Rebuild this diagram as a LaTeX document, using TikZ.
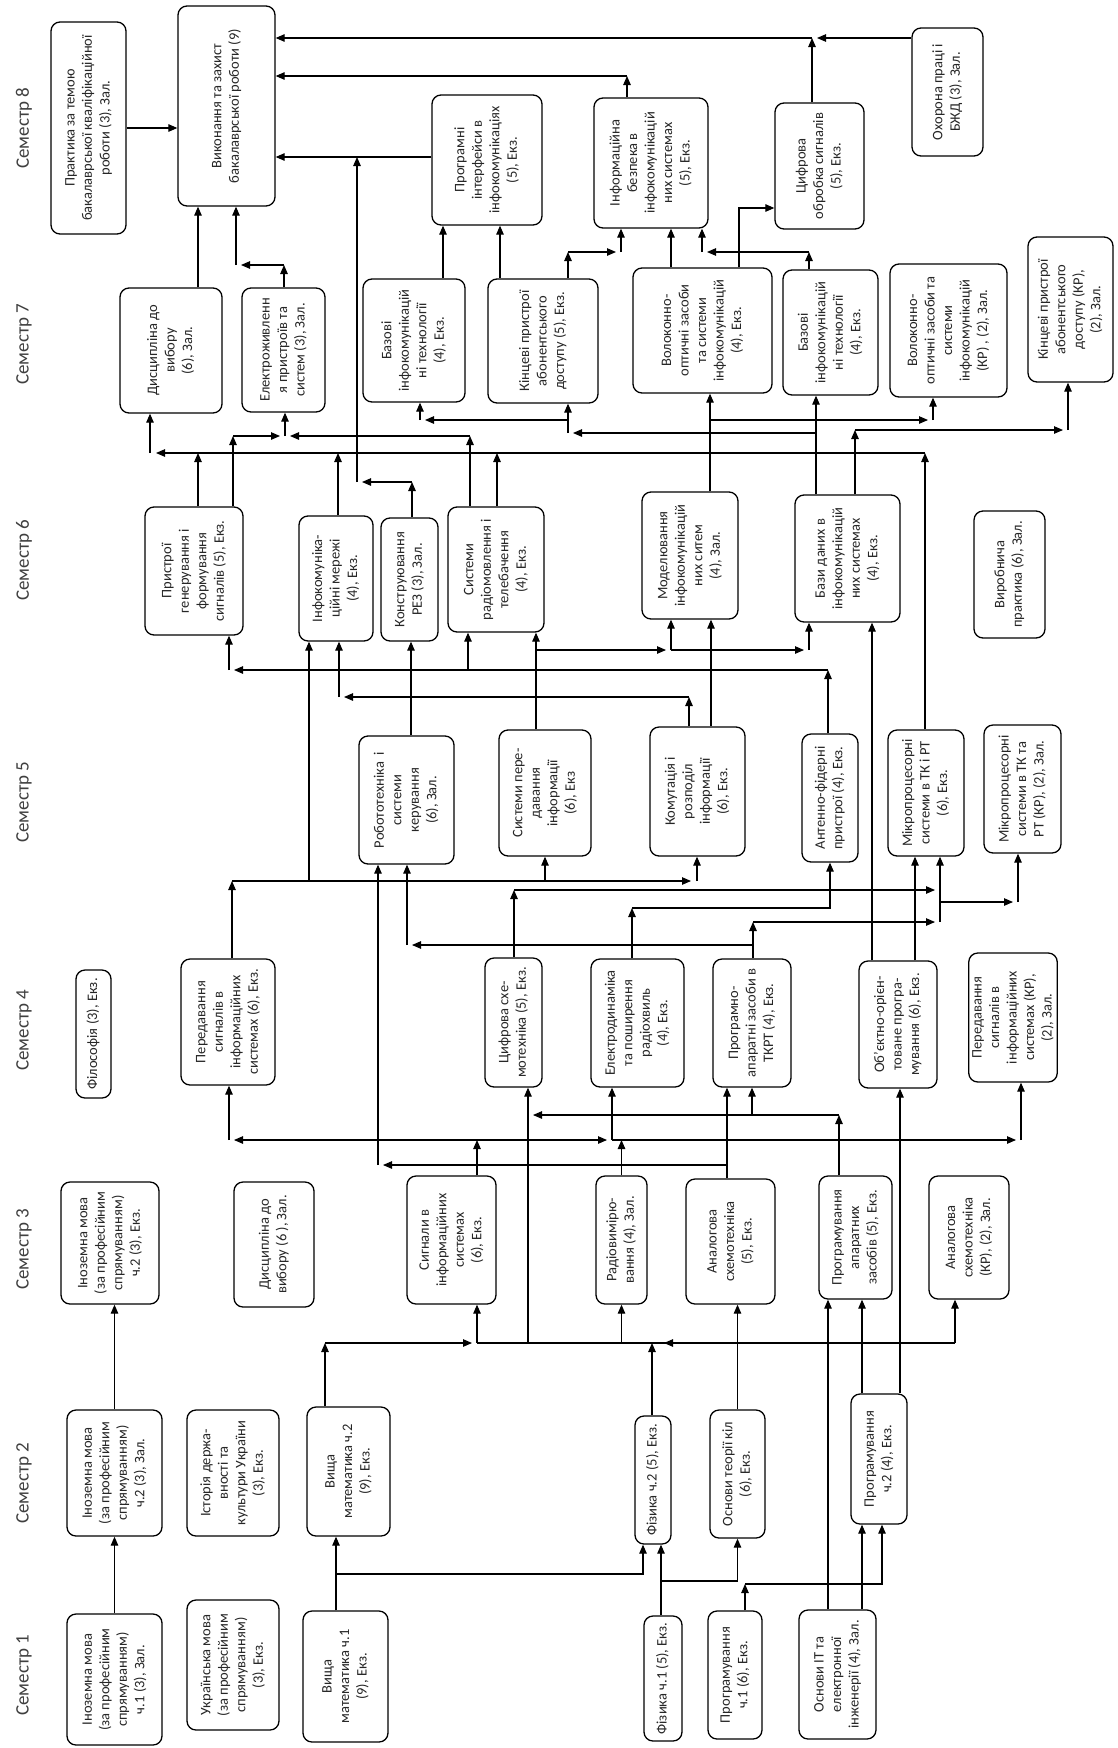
\documentclass[tikz,border=0pt]{standalone}
\usepackage{fontspec}
\setmainfont{Carlito}
\usepackage{tikz}
\usetikzlibrary{arrows.meta}
\newcommand{\vtxt}[1]{\rotatebox{90}{\begin{tabular}{@{}c@{}}#1\end{tabular}}}

\begin{document}
\begin{tikzpicture}[
    x=1pt, y=-1pt,
    >={Triangle[length=9pt,width=7.5pt]}, font=\fontsize{14.5}{17.5}\selectfont,
    subj/.style={rectangle, rounded corners=9pt, draw=black, line width=1.3pt, fill=white, text=black!85, align=center, inner sep=0.5pt},
    sem/.style={font=\fontsize{19}{22}\selectfont, text=black!75},
    link/.style={line width=1.1pt}
]
    \fill[white] (0,0) rectangle (1117,1748);
    \useasboundingbox (0,0) rectangle (1117,1748);

    \node[sem] (sem_1) at (24,1675) {\rotatebox{90}{Семестр 1}};
    \node[sem] (sem_2) at (24,1483) {\rotatebox{90}{Семестр 2}};
    \node[sem] (sem_3) at (24,1249) {\rotatebox{90}{Семестр 3}};
    \node[sem] (sem_4) at (24,1030) {\rotatebox{90}{Семестр 4}};
    \node[sem] (sem_5) at (24,802) {\rotatebox{90}{Семестр 5}};
    \node[sem] (sem_6) at (24,560) {\rotatebox{90}{Семестр 6}};
    \node[sem] (sem_7) at (24,344) {\rotatebox{90}{Семестр 7}};
    \node[sem] (sem_8) at (24,128) {\rotatebox{90}{Семестр 8}};

    \node[subj, minimum width=75pt, minimum height=212pt] (prakt) at (88.5,128) {\vtxt{Практика за темою\\бакалаврської кваліфікаційної\\роботи (3), Зал.}};
    \node[subj, minimum width=97pt, minimum height=200pt] (vykon) at (226.5,106) {\vtxt{Виконання та захист\\бакалаврської роботи (9)}};
    \node[subj, minimum width=110pt, minimum height=130pt] (prohr_int) at (487,160) {\vtxt{Програмні\\інтерфейси в\\інфокомунікаціях\\(5), Екз.}};
    \node[subj, minimum width=114pt, minimum height=130pt] (inf_bezp) at (651,163) {\vtxt{Інформаційна\\безпека в\\інфокомунікацій\\них системах\\(5), Екз.}};
    \node[subj, minimum width=89pt, minimum height=126pt] (tsyf_obr) at (819.5,166) {\vtxt{Цифрова\\обробка сигналів\\(5), Екз.}};
    \node[subj, minimum width=71pt, minimum height=128pt] (okhor) at (947.5,92) {\vtxt{Охорона праці і\\БЖД (3), Зал.}};

    \node[subj, minimum width=102pt, minimum height=125pt] (dysc_7) at (171,350.5) {\vtxt{Дисципліна до\\вибору\\(6), Зал.}};
    \node[subj, minimum width=83pt, minimum height=124pt] (elektr_7) at (283.5,350) {\vtxt{Електроживленн\\я пристроїв та\\систем (3), Зал.}};
    \node[subj, minimum width=102pt, minimum height=123pt] (baz_1) at (414,340.5) {\vtxt{Базові\\інфокомунікацій\\ні технології\\(4), Екз.}};
    \node[subj, minimum width=110pt, minimum height=124pt] (kinc_7) at (543,341) {\vtxt{Кінцеві пристрої\\абонентського\\доступу (5), Екз.}};
    \node[subj, minimum width=139pt, minimum height=125pt] (volok_7) at (702.5,330.5) {\vtxt{Волоконно-\\оптичні засоби\\та системи\\інфокомунікацій\\(4), Екз.}};
    \node[subj, minimum width=95pt, minimum height=125pt] (baz_2) at (830.5,332.5) {\vtxt{Базові\\інфокомунікацій\\ні технології\\(4), Екз.}};
    \node[subj, minimum width=117pt, minimum height=133pt] (volok_kp) at (948.5,330.5) {\vtxt{Волоконно-\\оптичні засоби та\\системи\\інфокомунікацій\\(КР) , (2), Зал.}};
    \node[subj, minimum width=85pt, minimum height=145pt] (kinc_kp) at (1070.5,309.5) {\vtxt{Кінцеві пристрої\\абонентського\\доступу (КР),\\(2), Зал.}};

    \node[subj, minimum width=98pt, minimum height=128pt] (prystr) at (194,571) {\vtxt{Пристрої\\генерування і\\формування\\сигналів (5), Екз.}};
    \node[subj, minimum width=74pt, minimum height=125pt] (infomer) at (336,578.5) {\vtxt{Інфокомуніка-\\ційні мережі\\(4), Екз.}};
    \node[subj, minimum width=57pt, minimum height=123pt] (konstr) at (409.5,579.5) {\vtxt{Конструювання\\РЕЗ (3), Зал.}};
    \node[subj, minimum width=96pt, minimum height=125pt] (radiomov) at (496,569.5) {\vtxt{Системи\\радіомовлення і\\телебачення\\(4), Екз.}};
    \node[subj, minimum width=96pt, minimum height=127pt] (model) at (690,555.5) {\vtxt{Моделювання\\інфокомунікацій\\них ситем\\(4), Зал.}};
    \node[subj, minimum width=105pt, minimum height=127pt] (bazy) at (847.5,558.5) {\vtxt{Бази даних в\\інфокомунікацій\\них системах\\(4), Екз.}};
    \node[subj, minimum width=71pt, minimum height=127pt] (vyrob) at (1009.5,574.5) {\vtxt{Виробнича\\практика (6), Зал.}};

    \node[subj, minimum width=95pt, minimum height=128pt] (robot) at (406.5,800) {\vtxt{Робототехніка\ \ і\\системи\\керування\\(6), Зал.}};
    \node[subj, minimum width=92pt, minimum height=126pt] (syst_pered) at (545,793) {\vtxt{Системи пере-\\давання\\інформації\\(6), Екз}};
    \node[subj, minimum width=95pt, minimum height=129pt] (komut) at (697.5,791.5) {\vtxt{Комутація і\\розподіл\\інформації\\(6), Екз.}};
    \node[subj, minimum width=56pt, minimum height=128pt] (anten) at (830,798) {\vtxt{Антенно-фідерні\\пристрої (4), Екз.}};
    \node[subj, minimum width=76pt, minimum height=126pt] (mikro) at (926,793) {\vtxt{Мікропроцесорні\\системи в ТК і РТ\\(6), Екз.}};
    \node[subj, minimum width=77pt, minimum height=128pt] (mikro_kp) at (1022.5,789) {\vtxt{Мікропроцесорні\\системи в ТК та\\РТ (КР), (2), Зал.}};

    \node[subj, minimum width=35pt, minimum height=128pt] (filos) at (93.5,1034) {\vtxt{Філософія (3), Екз.}};
    \node[subj, minimum width=94pt, minimum height=126pt] (peredav_4) at (228,1022) {\vtxt{Передавання\\сигналів в\\інформаційних\\системах (6), Екз.}};
    \node[subj, minimum width=57pt, minimum height=129pt] (tsyf_skh) at (513.5,1022.5) {\vtxt{Цифрова схе-\\мотехніка (5), Екз.}};
    \node[subj, minimum width=93pt, minimum height=128pt] (elektrod) at (637.5,1023) {\vtxt{Електродинаміка\\та поширення\\радіохвиль\\(4), Екз.}};
    \node[subj, minimum width=78pt, minimum height=128pt] (progap_tkrt) at (752,1023) {\vtxt{Програмно-\\апаратні засоби в\\ТКРТ (4), Екз.}};
    \node[subj, minimum width=78pt, minimum height=127pt] (oop) at (898,1024.5) {\vtxt{Об’єктно-орієн-\\товане програ-\\мування (6), Екз.}};
    \node[subj, minimum width=86pt, minimum height=129pt] (peredav_kp) at (1013,1017.5) {\vtxt{Передавання\\сигналів в\\інформаційних\\системах (КР),\\(2), Зал.}};

    \node[subj, minimum width=98pt, minimum height=122pt] (inoz_3) at (110,1243) {\vtxt{Іноземна мова\\(за професійним\\спрямуванням)\\ч.2 (3), Екз.}};
    \node[subj, minimum width=80pt, minimum height=125pt] (dysc_3) at (274,1244.5) {\vtxt{Дисципліна до\\вибору (6 ), Зал.}};
    \node[subj, minimum width=89pt, minimum height=128pt] (syhn_3) at (451.5,1240) {\vtxt{Сигнали в\\інформаційних\\системах\\(6), Екз.}};
    \node[subj, minimum width=51pt, minimum height=128pt] (radiovym) at (621.5,1240) {\vtxt{Радіовимірю-\\вання (4), Зал.}};
    \node[subj, minimum width=89pt, minimum height=125pt] (analoh) at (730.5,1241.5) {\vtxt{Аналогова\\схемотехніка\\(5), Екз.}};
    \node[subj, minimum width=73pt, minimum height=123pt] (progap) at (855.5,1237.5) {\vtxt{Програмування\\апаратних\\засобів (5), Екз.}};
    \node[subj, minimum width=80pt, minimum height=123pt] (analoh_kp) at (969,1237.5) {\vtxt{Аналогова\\схемотехніка\\(КР), (2), Зал.}};

    \node[subj, minimum width=95pt, minimum height=126pt] (inoz_2) at (114.5,1473) {\vtxt{Іноземна мова\\(за професійним\\спрямуванням)\\ч.2 (3), Зал.}};
    \node[subj, minimum width=92pt, minimum height=126pt] (istor) at (233,1473) {\vtxt{Історія держа-\\вності та\\культури України\\(3), Екз.}};
    \node[subj, minimum width=83pt, minimum height=129pt] (vyshmat_2) at (348.5,1471.5) {\vtxt{Вища\\математика ч.2\\(9), Екз.}};
    \node[subj, minimum width=36pt, minimum height=128pt] (fiz_2) at (653,1480) {\vtxt{Фізика ч.2 (5), Екз.}};
    \node[subj, minimum width=55pt, minimum height=128pt] (teorkil) at (737.5,1474) {\vtxt{Основи теорії кіл\\(6), Екз.}};
    \node[subj, minimum width=56pt, minimum height=130pt] (prog_2) at (879,1459) {\vtxt{Програмування\\ч.2 (4), Екз.}};

    \node[subj, minimum width=95pt, minimum height=131pt] (inoz_1) at (114.5,1679.5) {\vtxt{Іноземна мова\\(за професійним\\спрямуванням)\\ч.1 (3), Зал.}};
    \node[subj, minimum width=92pt, minimum height=130pt] (ukr) at (233,1665) {\vtxt{Українська мова\\(за професійним\\спрямуванням)\\(3), Екз.}};
    \node[subj, minimum width=85pt, minimum height=131pt] (vyshmat_1) at (345.5,1676.5) {\vtxt{Вища\\математика ч.1\\(9), Екз.}};
    \node[subj, minimum width=38pt, minimum height=125pt] (fiz_1) at (663,1678.5) {\vtxt{Фізика ч.1 (5), Екз.}};
    \node[subj, minimum width=54pt, minimum height=128pt] (prog_1) at (735,1675) {\vtxt{Програмування\\ч.1 (6), Екз.}};
    \node[subj, minimum width=77pt, minimum height=129pt] (osn_it) at (837.5,1674.5) {\vtxt{Основи ІТ та\\електронної\\інженерії (4), Зал.}};

    % semester 1 -> 2
    \coordinate (vm_j) at (336,1574);
    \coordinate (f1_j) at (661,1581);
    \coordinate (p1_j) at (745,1584);
    \draw[->, link] (inoz_1) -- (inoz_2);
    \draw[->, link] (vm_j |- vyshmat_1.north) -- (vm_j |- vyshmat_2.south);
    \draw[->, link] (vm_j) -| ([xshift=-10pt]fiz_2.south);
    \draw[->, link] (f1_j |- fiz_1.north) -- (f1_j |- fiz_2.south);
    \draw[->, link] (f1_j) -| (teorkil.south);
    \draw[->, link] (p1_j |- prog_1.north) -- (p1_j);
    \draw[->, link] (p1_j) -| ([xshift=3pt]prog_2.south);
    \draw[->, link] (862,0 |- osn_it.north) -- (862,0 |- prog_2.south);
    \draw[->, link] (828,0 |- osn_it.north) -- (828,0 |- progap.south);

    % semester 2 -> 3
    \coordinate (bus23_l) at (325,1343);
    \coordinate (bus23_r) at (955,1343);
    \coordinate (s3_j) at (477,1343);
    \coordinate (f2_j) at (652,1343);
    \coordinate (ts_j) at (528,1343);
    \draw[->, link] (inoz_2.north) -- (inoz_2.north |- inoz_3.south);
    \draw[->, link] (bus23_l |- vyshmat_2.north) -- (bus23_l);
    \draw[->, link] (bus23_l) -- ([xshift=-5pt]s3_j);
    \draw[->, link] (s3_j) -- (s3_j |- syhn_3.south);
    \draw[link] (s3_j) -- (bus23_r);
    \draw[->, link] (bus23_r) -- ([xshift=12pt]f2_j);
    \draw[->, link] (f2_j |- fiz_2.north) -- (f2_j);
    \draw[->, link] (bus23_r) -- (bus23_r |- analoh_kp.south);
    \draw[->, link] (radiovym.south |- bus23_l) -- (radiovym.south);
    \draw[->, link] (ts_j) -- (ts_j |- tsyf_skh.south);
    \draw[->, link] (teorkil.north) -- (teorkil.north |- analoh.south);
    \draw[->, link] (862,0 |- prog_2.north) -- (862,0 |- progap.south);
    \draw[->, link] (900,0 |- prog_2.north) -- (900,0 |- oop.south);

    % semester 3 -> 4
    \coordinate (s4_j) at (477,1140);
    \coordinate (pd_j) at (229,1140);
    \coordinate (el_j) at (612,1140);
    \coordinate (pk_j) at (1021,1140);
    \draw[->, link] (s4_j |- syhn_3.north) -- (s4_j);
    \draw[->, link] (s4_j) -- ([xshift=5pt]pd_j);
    \draw[->, link] (pd_j) -- (pd_j |- peredav_4.south);
    \draw[->, link] (s4_j) -- ([xshift=-5pt]el_j);
    \draw[->, link] (el_j) -- (el_j |- elektrod.south);
    \draw[->, link] (radiovym.north) -- (radiovym.north |- el_j);
    \draw[->, link] (el_j) -- ([xshift=-5pt]pk_j);
    \draw[->, link] (pk_j) -- (pk_j |- peredav_kp.south);
    \coordinate (an_j) at (727,1165);
    \coordinate (rb_j) at (378,1165);
    \draw[->, link] (an_j |- analoh.north) -- (an_j |- progap_tkrt.south);
    \draw[->, link] (an_j) -- ([xshift=5pt]rb_j);
    \draw[->, link] (rb_j) -- (rb_j |- robot.south);
    \coordinate (pa_j) at (839,1115);
    \coordinate (ts_k) at (528,1115);
    \draw[->, link] (pa_j |- progap.north) -- (pa_j);
    \draw[->, link] (pa_j) -- ([xshift=5pt]ts_k);
    \draw[->, link] (progap_tkrt.south |- pa_j) -- (progap_tkrt.south);

    % semester 4 -> 5
    \coordinate (pv_j) at (232,881);
    \coordinate (km_j) at (697,881);
    \draw[->, link] (pv_j |- peredav_4.north) -- (pv_j);
    \draw[->, link] (pv_j) -- ([xshift=-6pt]km_j);
    \draw[->, link] (km_j) -- (km_j |- komut.south);
    \draw[->, link] (309,0 |- pv_j) -- (309,0 |- infomer.south);
    \draw[->, link] (syst_pered.south |- pv_j) -- (syst_pered.south);
    \coordinate (tk_j) at (514,890);
    \coordinate (mk_j) at (940,890);
    \coordinate (pt_j) at (753,922);
    \coordinate (mk_k) at (940,922);
    \draw[->, link] (tk_j |- tsyf_skh.north) -- (tk_j);
    \draw[->, link] (tk_j) -- ([xshift=-5pt]mk_j);
    \draw[->, link] (pt_j |- progap_tkrt.north) -- (pt_j);
    \draw[->, link] (pt_j) -- ([xshift=-5pt]mk_k);
    \draw[->, link] (mk_k) -- (mk_k |- mikro.south);
    \coordinate (mp_j) at (940,902);
    \coordinate (mkp_j) at (1018,902);
    \draw[->, link] (mp_j) -- ([xshift=-5pt]mkp_j);
    \draw[->, link] (mkp_j) -- (mkp_j |- mikro_kp.south);
    \coordinate (rb_k) at (407,945);
    \draw[->, link] (pt_j |- rb_k) -- ([xshift=5pt]rb_k);
    \draw[->, link] (rb_k) -- (rb_k |- robot.south);
    \coordinate (el_k) at (632,908);
    \draw[->, link] (el_k |- elektrod.north) -- (el_k);
    \draw[->, link] (el_k) -| (anten.south);
    \draw[->, link] (872,0 |- oop.north) -- (872,0 |- bazy.south);
    \draw[->, link] (915,0 |- oop.north) -- (915,0 |- mikro.south);

    % semester 5 -> 6
    \draw[->, link] (411,0 |- robot.north) -- (411,0 |- konstr.south);
    \coordinate (sp_j) at (536,650);
    \coordinate (md_j) at (671,650);
    \coordinate (bz_j) at (809,650);
    \draw[->, link] (sp_j |- syst_pered.north) -- (sp_j |- radiomov.south);
    \draw[->, link] (sp_j) -- ([xshift=-5pt]md_j);
    \draw[->, link] (md_j) -- (md_j |- model.south);
    \draw[->, link] (md_j) -- ([xshift=-5pt]bz_j);
    \draw[->, link] (bz_j) -- (bz_j |- bazy.south);
    \coordinate (km_k) at (689,697);
    \coordinate (im_j) at (339,697);
    \draw[->, link] (km_k |- komut.north) -- (km_k);
    \draw[->, link] (km_k) -- ([xshift=5pt]im_j);
    \draw[->, link] (im_j) -- (im_j |- infomer.south);
    \draw[->, link] (711,0 |- komut.north) -- (711,0 |- model.south);
    \coordinate (at_j) at (828,670);
    \coordinate (ps_j) at (229,670);
    \draw[->, link] (at_j |- anten.north) -- (at_j);
    \draw[->, link] (at_j) -- ([xshift=5pt]ps_j);
    \draw[->, link] (ps_j) -- (ps_j |- prystr.south);
    \draw[->, link] (468,0 |- at_j) -- (468,0 |- radiomov.south);

    % semester 6 -> 7
    \coordinate (busA_l) at (150,453);
    \coordinate (busA_r) at (925,453);
    \draw[->, link] (busA_r |- mikro.north) -- (busA_r);
    \draw[->, link] (busA_r) -- ([xshift=6pt]busA_l);
    \draw[->, link] (busA_l) -- (busA_l |- dysc_7.south);
    \draw[->, link] (198,0 |- prystr.north) -- (198,0 |- busA_l);
    \draw[->, link] (338,0 |- infomer.north) -- (338,0 |- busA_l);
    \draw[->, link] (497,0 |- radiomov.north) -- (497,0 |- busA_l);
    \coordinate (ek_j) at (285,436);
    \draw[->, link] (233,0 |- prystr.north) -- (233,0 |- ek_j);
    \draw[->, link] (233,0 |- ek_j) -- ([xshift=-5pt]ek_j);
    \draw[->, link] (470,0 |- radiomov.north) -- (470,0 |- ek_j);
    \draw[->, link] (470,0 |- ek_j) -- ([xshift=5pt]ek_j);
    \draw[->, link] (ek_j) -- (ek_j |- elektr_7.south);
    \coordinate (kn_j) at (412,482);
    \coordinate (vk_j) at (357,482);
    \coordinate (vk_k) at (357,157);
    \draw[->, link] (kn_j |- konstr.north) -- (kn_j);
    \draw[->, link] (kn_j) -- ([xshift=5pt]vk_j);
    \draw[->, link] (vk_j) -- (vk_k);
    \coordinate (md_k) at (710,420);
    \coordinate (vkp_j) at (933,420);
    \draw[->, link] (md_k |- model.north) -- (md_k |- volok_7.south);
    \draw[->, link] (md_k) -- ([xshift=-5pt]vkp_j);
    \draw[->, link] (vkp_j) -- (vkp_j |- volok_kp.south);
    \coordinate (bz_k) at (816,433);
    \coordinate (kc_j) at (568,433);
    \coordinate (b1_j) at (420,420);
    \draw[->, link] (bz_k |- bazy.north) -- (bz_k |- baz_2.south);
    \draw[->, link] (bz_k) -- ([xshift=5pt]kc_j);
    \draw[->, link] (kc_j) -- (kc_j |- kinc_7.south);
    \draw[->, link] (kc_j |- b1_j) -- ([xshift=5pt]b1_j);
    \draw[->, link] (b1_j) -- (b1_j |- baz_1.south);
    \coordinate (bz_l) at (855,430);
    \coordinate (kk_j) at (1068,430);
    \draw[->, link] (bz_l |- bazy.north) -- (bz_l);
    \draw[->, link] (bz_l) -- ([xshift=-5pt]kk_j);
    \draw[->, link] (kk_j) -- (kk_j |- kinc_kp.south);

    % semester 7 -> 8
    \draw[->, link] (prakt.east) -- (prakt.east -| vykon.west);
    \draw[->, link] (198,0 |- dysc_7.north) -- (198,0 |- vykon.south);
    \coordinate (e7_j) at (284,265);
    \coordinate (vy_j) at (236,265);
    \draw[->, link] (e7_j |- elektr_7.north) -- (e7_j);
    \draw[->, link] (e7_j) -- ([xshift=5pt]vy_j);
    \draw[->, link] (vy_j) -- (vy_j |- vykon.south);
    \draw[->, link] (prohr_int.west |- vk_k) -- (vykon.east |- vk_k);
    \draw[->, link] (443,0 |- baz_1.north) -- (443,0 |- prohr_int.south);
    \draw[->, link] (500,0 |- kinc_7.north) -- (500,0 |- prohr_int.south);
    \coordinate (k7_j) at (568,252);
    \coordinate (ib_j) at (621,252);
    \draw[->, link] (k7_j |- kinc_7.north) -- (k7_j);
    \draw[->, link] (k7_j) -- ([xshift=-5pt]ib_j);
    \draw[->, link] (ib_j) -- (ib_j |- inf_bezp.south);
    \draw[->, link] (671,0 |- volok_7.north) -- (671,0 |- inf_bezp.south);
    \draw[->, link] (739,0 |- volok_7.north) |- (tsyf_obr.west |- 0,208);
    \coordinate (b2_j) at (809,252);
    \coordinate (ib_k) at (702,252);
    \draw[->, link] (b2_j |- baz_2.north) -- (b2_j);
    \draw[->, link] (b2_j) -- ([xshift=5pt]ib_k);
    \draw[->, link] (ib_k) -- (ib_k |- inf_bezp.south);
    \coordinate (ib_t) at (627,76);
    \draw[->, link] (ib_t |- inf_bezp.north) -- (ib_t);
    \draw[->, link] (ib_t) -- (vykon.east |- ib_t);
    \coordinate (ok_j) at (812,38);
    \draw[->, link] (okhor.west |- ok_j) -- ([xshift=5pt]ok_j);
    \draw[->, link] (ok_j |- tsyf_obr.north) -- (ok_j);
    \draw[->, link] (ok_j) -- (vykon.east |- ok_j);
\end{tikzpicture}
\end{document}
